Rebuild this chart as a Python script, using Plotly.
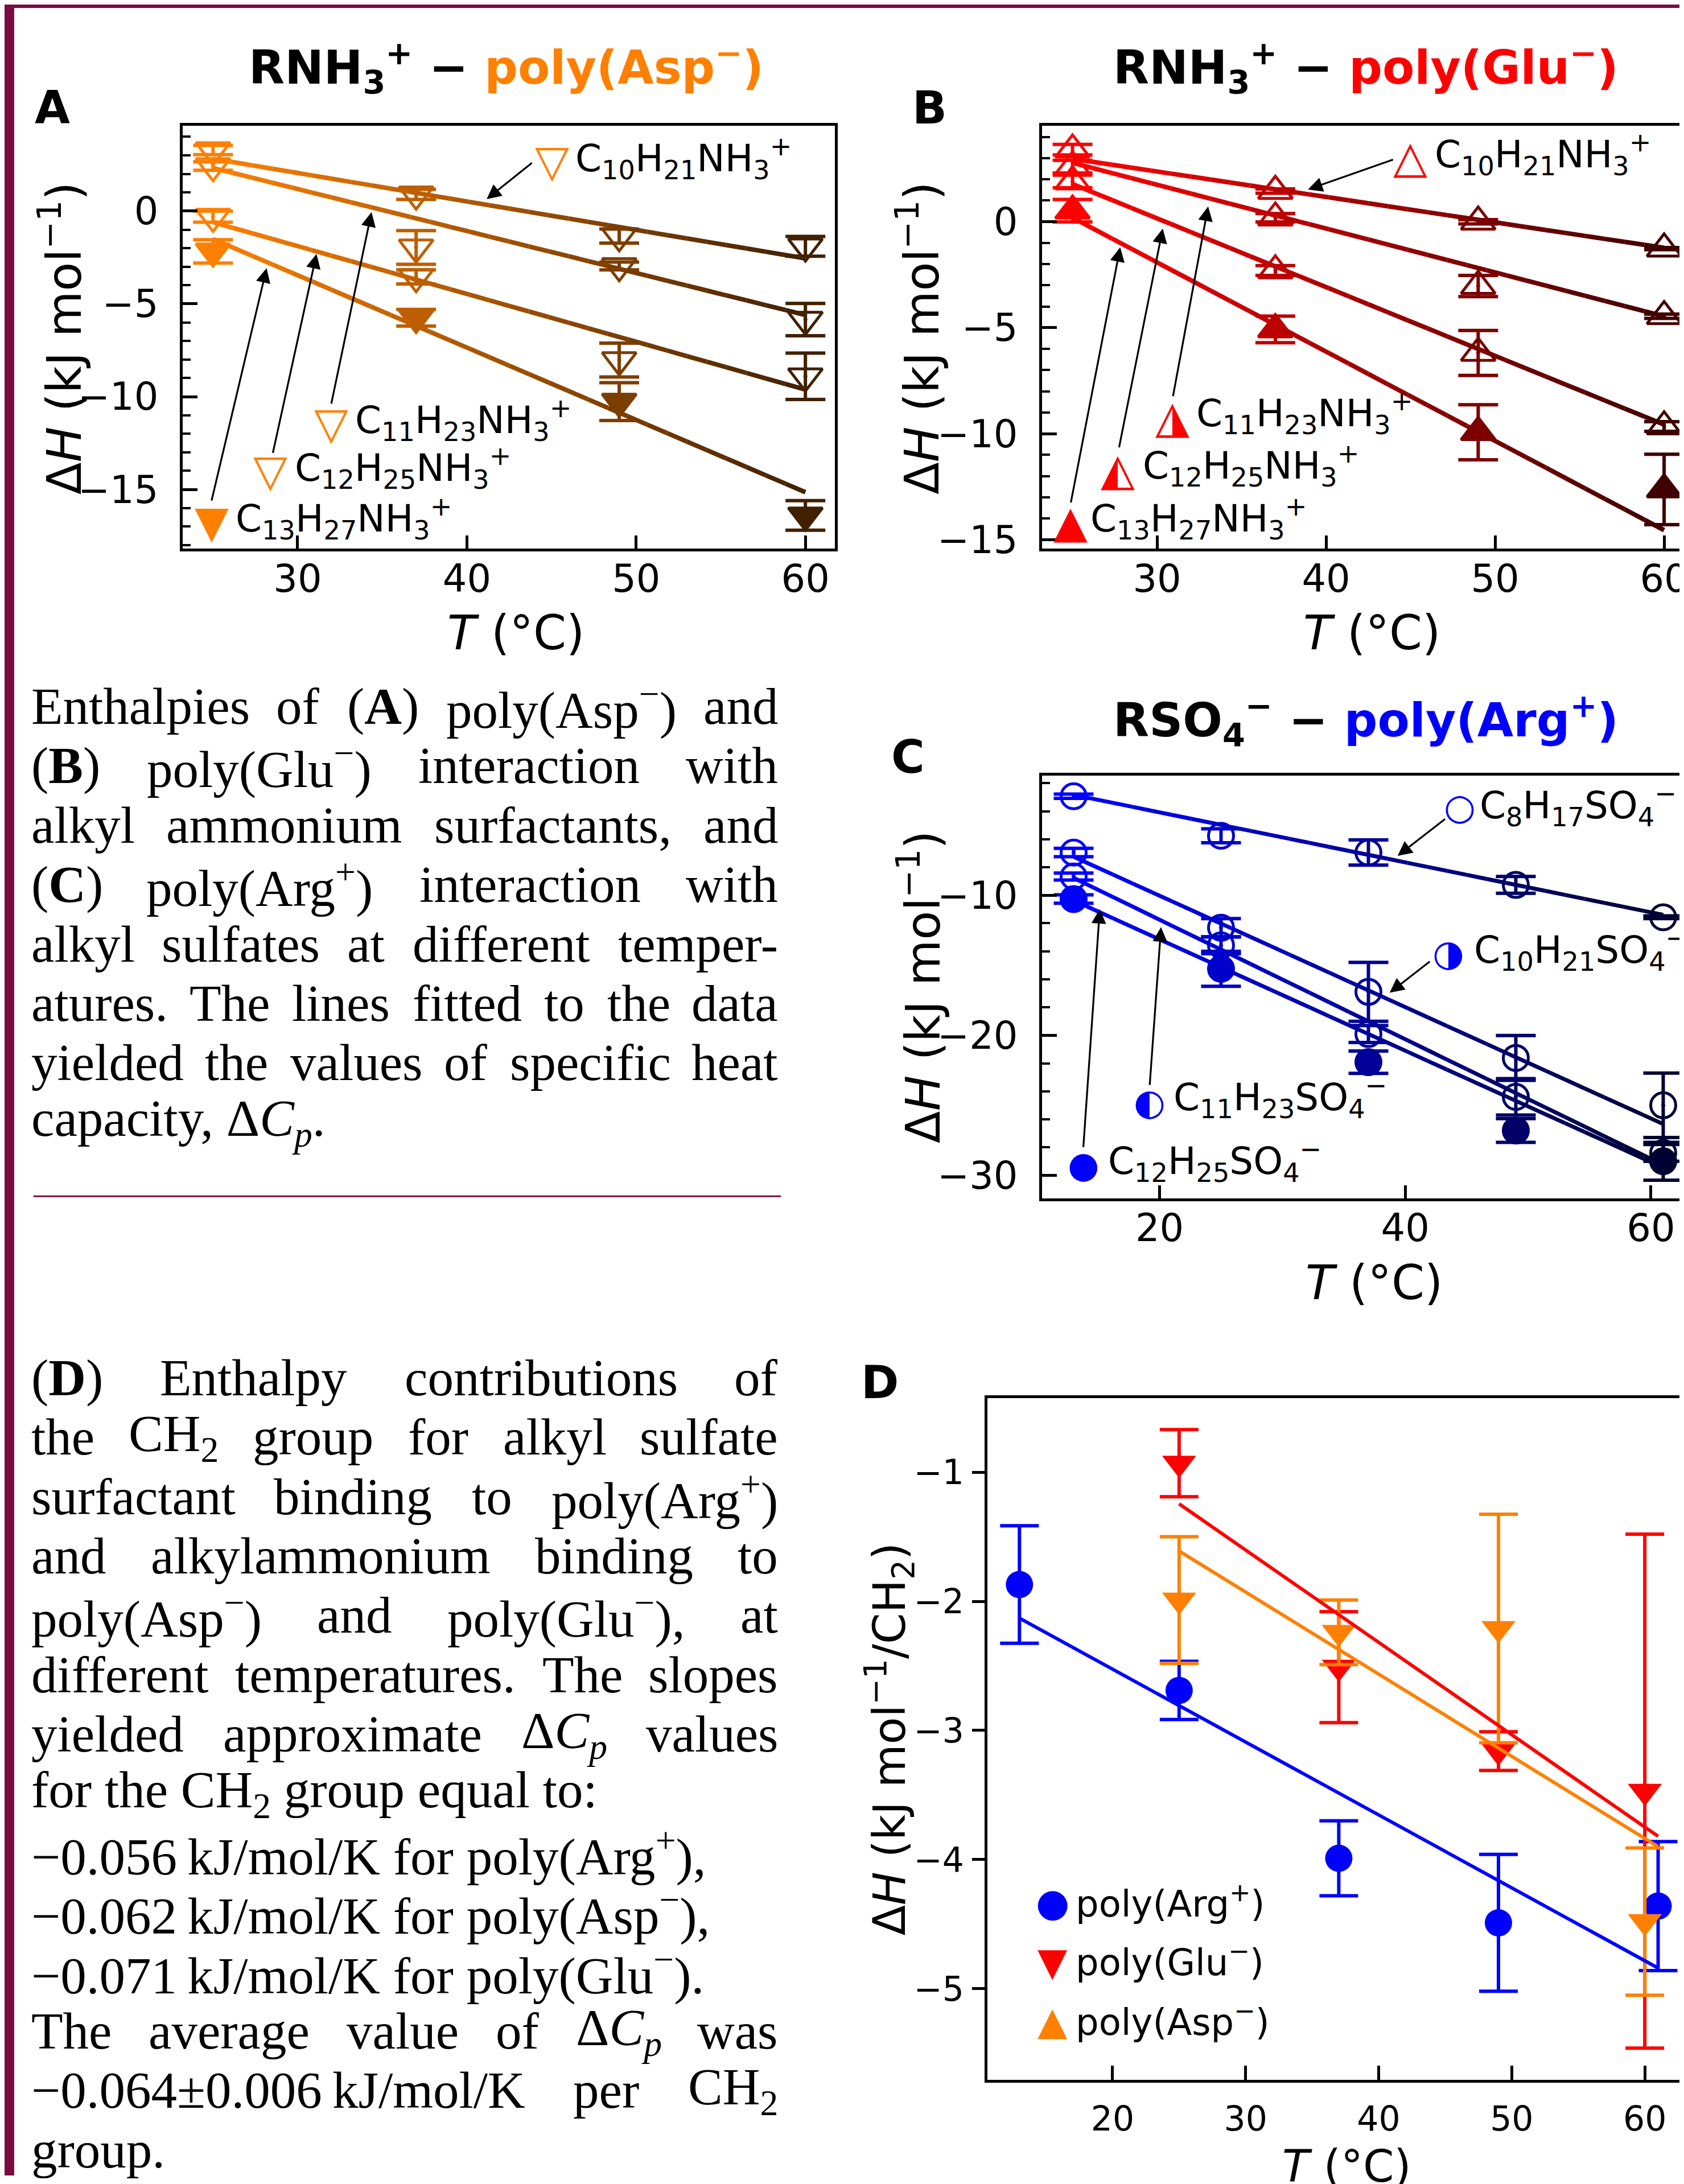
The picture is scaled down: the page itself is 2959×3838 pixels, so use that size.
import re
import plotly.graph_objects as go

FW, FH = 2959, 3838
MAROON = '#7a0c41'

# ================= DATA =================
# Panel A : RNH3+ - poly(Asp-)
T_A = [25, 37, 49, 60]
A_C10 = [3.29, 0.9, -1.35, -1.9]
A_C11 = [2.43, -1.96, -2.96, -5.85]
A_C12 = [-0.3, -3.55, -8.03, -8.9]
A_C13 = [-2.17, -5.75, -10.27, -16.4]
A_C10_err = [0.25, 0.27, 0.38, 0.53]
A_C11_err = [0.23, 0.91, 0.21, 0.87]
A_C12_err = [0.3, 0.38, 0.91, 1.25]
A_C13_err = [0.63, 0.45, 1.02, 0.8]
A_fit_T = [25, 60]
A_C10_fit = [2.82, -2.55]
A_C11_fit = [2.32, -5.6]
A_C12_fit = [-0.6, -9.62]
A_C13_fit = [-1.51, -15.15]

# Panel B : RNH3+ - poly(Glu-)
T_B = [25, 37, 49, 60]
B_C10 = [3.4, 1.45, 0.0, -1.27]
B_C11 = [2.6, 0.19, -3.03, -4.46]
B_C12 = [1.9, -2.3, -6.19, -9.66]
B_C13 = [0.52, -5.08, -9.93, -12.63]
B_C10_err = [0.25, 0.1, 0.1, 0.05]
B_C11_err = [0.3, 0.2, 0.5, 0.1]
B_C12_err = [0.3, 0.23, 1.06, 0.23]
B_C13_err = [0.53, 0.63, 1.3, 1.66]
B_fit_T = [25, 60]
B_C10_fit = [2.97, -1.23]
B_C11_fit = [2.78, -4.46]
B_C12_fit = [1.78, -9.57]
B_C13_fit = [0.19, -14.55]

# Panel C : RSO4- - poly(Arg+)
T_C = [13, 25, 37, 49, 61]
C_C8 = [-2.93, -5.75, -6.95, -9.26, -11.57]
C_C10 = [-6.95, -12.32, -16.9, -21.62, -25.0]
C_C11 = [-8.66, -13.58, -19.91, -24.4, -28.4]
C_C12 = [-10.27, -15.25, -21.92, -26.8, -29.0]
C_C8_err = [0.15, 0.5, 0.9, 0.6, 0.1]
C_C10_err = [0.3, 0.65, 2.1, 1.6, 2.3]
C_C11_err = [0.25, 0.6, 0.6, 1.3, 0.6]
C_C12_err = [0.3, 1.25, 0.8, 0.85, 1.35]
C_fit_T = [13, 61]
C_C8_fit = [-2.83, -11.4]
C_C10_fit = [-7.25, -26.34]
C_C11_fit = [-8.76, -29.25]
C_C12_fit = [-10.37, -29.45]

# Panel D : enthalpy per CH2
T_D_arg = [13, 25, 37, 49, 61]
D_arg = [-1.87, -2.69, -3.99, -4.49, -4.36]
D_arg_err = [0.455, 0.225, 0.29, 0.53, 0.5]
T_D_ag = [25, 37, 49, 60]
D_glu = [-0.93, -2.51, -3.16, -3.47]
D_glu_err = [0.26, 0.43, 0.15, 1.99]
D_asp = [-1.99, -2.24, -2.21, -4.48]
D_asp_err = [0.49, 0.25, 0.885, 0.57]
D_arg_fit_T = [13, 61]
D_arg_fit = [-2.13, -4.84]
D_ag_fit_T = [25, 61]
D_glu_fit = [-1.245, -3.82]
D_asp_fit = [-1.61, -3.90]

# text
P1_LINES = [
    (['Enthalpies', 'of', '(<b>A</b>)', 'poly(Asp<sup>−</sup>)', 'and'], True),
    (['(<b>B</b>)', 'poly(Glu<sup>−</sup>)', 'interaction', 'with'], True),
    (['alkyl', 'ammonium', 'surfactants,', 'and'], True),
    (['(<b>C</b>)', 'poly(Arg<sup>+</sup>)', 'interaction', 'with'], True),
    (['alkyl', 'sulfates', 'at', 'different', 'temper-'], True),
    (['atures.', 'The', 'lines', 'fitted', 'to', 'the', 'data'], True),
    (['yielded', 'the', 'values', 'of', 'specific', 'heat'], True),
    (['capacity,', 'Δ<i>C<sub>p</sub></i>.'], False),
]
P2_LINES = [
    (['(<b>D</b>)', 'Enthalpy', 'contributions', 'of'], True),
    (['the', 'CH<sub>2</sub>', 'group', 'for', 'alkyl', 'sulfate'], True),
    (['surfactant', 'binding', 'to', 'poly(Arg<sup>+</sup>)'], True),
    (['and', 'alkylammonium', 'binding', 'to'], True),
    (['poly(Asp<sup>−</sup>)', 'and', 'poly(Glu<sup>−</sup>),', 'at'], True),
    (['different', 'temperatures.', 'The', 'slopes'], True),
    (['yielded', 'approximate', 'Δ<i>C<sub>p</sub></i>', 'values'], True),
    (['for', 'the', 'CH<sub>2</sub>', 'group', 'equal', 'to:'], False),
    (['−0.056\u2009kJ/mol/K', 'for', 'poly(Arg<sup>+</sup>),'], False),
    (['−0.062\u2009kJ/mol/K', 'for', 'poly(Asp<sup>−</sup>),'], False),
    (['−0.071\u2009kJ/mol/K', 'for', 'poly(Glu<sup>−</sup>).'], False),
    (['The', 'average', 'value', 'of', 'Δ<i>C<sub>p</sub></i>', 'was'], True),
    (['−0.064±0.006\u2009kJ/mol/K', 'per', 'CH<sub>2</sub>'], True),
    (['group.'], False),
]

# ================= HELPERS =================
ORANGE = (255, 128, 0)
RED = (255, 0, 0)
BLUE = (0, 0, 255)


def shade(base, T, T0, T1, k):
    f = 1 - k * (T - T0) / (T1 - T0)
    return 'rgb(%d,%d,%d)' % tuple(round(c * f) for c in base)


def rgb(c):
    return 'rgb(%d,%d,%d)' % c


fig = go.Figure()
annotations = []
shapes = []


def px(x, y):
    return x / FW, 1 - y / FH


def ann(text, x, y, size, family='DejaVu Sans', color='black', xanchor='center',
        yanchor='middle', angle=0):
    xx, yy = px(x, y)
    annotations.append(dict(text=text, x=xx, y=yy, xref='paper', yref='paper',
                            showarrow=False, xanchor=xanchor, yanchor=yanchor,
                            textangle=angle, borderpad=0,
                            font=dict(family=family, size=size, color=color)))


def arrow(head, tail):
    hx, hy = px(*head)
    annotations.append(dict(text='', x=hx, y=hy, xref='paper', yref='paper',
                            showarrow=True, ax=tail[0] - head[0], ay=tail[1] - head[1],
                            arrowhead=2, arrowsize=1.6, arrowwidth=3.2,
                            arrowcolor='black', standoff=0, startstandoff=0))


def points(T, vals, errs, base, T0, T1, k, symbol, size, xa, ya, lw=5, cap=35, eth=6):
    for t, v, e in zip(T, vals, errs):
        col = shade(base, t, T0, T1, k)
        fig.add_trace(go.Scatter(
            x=[t], y=[v], mode='markers', xaxis=xa, yaxis=ya,
            marker=dict(symbol=symbol, size=size, color=col,
                        line=dict(color=col, width=lw)),
            error_y=dict(type='data', array=[e], color=col, thickness=eth, width=cap),
            showlegend=False, hoverinfo='skip'))


def grad_line(Tfit, vfit, base, T0, T1, k, width, xa, ya, n=30):
    ta0, ta1 = Tfit
    va0, va1 = vfit
    for i in range(n):
        a = i / n
        b = (i + 1) / n
        t_a, t_b = ta0 + (ta1 - ta0) * a, ta0 + (ta1 - ta0) * b
        v_a, v_b = va0 + (va1 - va0) * a, va0 + (va1 - va0) * b
        col = shade(base, (t_a + t_b) / 2, T0, T1, k)
        fig.add_trace(go.Scatter(x=[t_a, t_b], y=[v_a, v_b], mode='lines',
                                 xaxis=xa, yaxis=ya,
                                 line=dict(color=col, width=width),
                                 showlegend=False, hoverinfo='skip'))


# ================= PANEL A =================
kA = 0.75
A_series = [
    (A_C10, A_C10_err, A_C10_fit, 'triangle-down-open'),
    (A_C11, A_C11_err, A_C11_fit, 'triangle-down-open-dot'),
    (A_C12, A_C12_err, A_C12_fit, 'triangle-down-open-dot'),
    (A_C13, A_C13_err, A_C13_fit, 'triangle-down'),
]
for v, e, f, sym in A_series:
    points(T_A, v, e, ORANGE, 25, 60, kA, sym, 52, 'x', 'y')
for v, e, f, sym in A_series:
    grad_line(A_fit_T, f, ORANGE, 25, 60, kA, 8, 'x', 'y')

# ================= PANEL B =================
B_series = [
    (B_C10, B_C10_err, B_C10_fit, 'triangle-up-open'),
    (B_C11, B_C11_err, B_C11_fit, 'triangle-up-open-dot'),
    (B_C12, B_C12_err, B_C12_fit, 'triangle-up-open-dot'),
    (B_C13, B_C13_err, B_C13_fit, 'triangle-up'),
]
for v, e, f, sym in B_series:
    points(T_B, v, e, RED, 25, 60, kA, sym, 52, 'x2', 'y2')
for v, e, f, sym in B_series:
    grad_line(B_fit_T, f, RED, 25, 60, kA, 8, 'x2', 'y2')

# ================= PANEL C =================
kC = 0.8
C_series = [
    (C_C8, C_C8_err, C_C8_fit, 'circle-open'),
    (C_C10, C_C10_err, C_C10_fit, 'circle-open-dot'),
    (C_C11, C_C11_err, C_C11_fit, 'circle-open-dot'),
    (C_C12, C_C12_err, C_C12_fit, 'circle'),
]
for v, e, f, sym in C_series:
    points(T_C, v, e, BLUE, 13, 61, kC, sym, 44, 'x3', 'y3')
for v, e, f, sym in C_series:
    grad_line(C_fit_T, f, BLUE, 13, 61, kC, 7, 'x3', 'y3')

# ================= PANEL D =================
for T, v, e, col, sym, size in [
        (T_D_arg, D_arg, D_arg_err, BLUE, 'circle', 48),
        (T_D_ag, D_glu, D_glu_err, RED, 'triangle-down', 52),
        (T_D_ag, D_asp, D_asp_err, ORANGE, 'triangle-down', 52)]:
    fig.add_trace(go.Scatter(
        x=T, y=v, mode='markers', xaxis='x4', yaxis='y4',
        marker=dict(symbol=sym, size=size, color=rgb(col), line=dict(width=0)),
        error_y=dict(type='data', array=e, color=rgb(col), thickness=6, width=34),
        showlegend=False, hoverinfo='skip'))
for Tf, vf, col in [(D_arg_fit_T, D_arg_fit, BLUE), (D_ag_fit_T, D_glu_fit, RED),
                    (D_ag_fit_T, D_asp_fit, ORANGE)]:
    fig.add_trace(go.Scatter(x=Tf, y=vf, mode='lines', xaxis='x4', yaxis='y4',
                             line=dict(color=rgb(col), width=6),
                             showlegend=False, hoverinfo='skip'))

# ================= AXES =================
TICKFONT = dict(family='DejaVu Sans', size=67, color='black')


def axstyle(**kw):
    d = dict(showline=True, linecolor='black', linewidth=5, ticks='inside',
             tickcolor='black', tickwidth=5, showgrid=False, zeroline=False,
             tickfont=TICKFONT, tick0=0, ticklabeloverflow='allow')
    d.update(kw)
    return d


MINOR = lambda dt: dict(ticks='inside', dtick=dt, ticklen=14, tickwidth=4, tickcolor='black')

XSO = -10
yAB = [1 - 962.2 / FH, 1 - 214.2 / FH]
layout_axes = dict(
    xaxis=axstyle(domain=[313.8 / FW, 1463.6 / FW], range=[23.2, 61.73], anchor='y',
                  dtick=10, ticklen=23, mirror=True, ticklabelstandoff=XSO),
    yaxis=axstyle(domain=yAB, range=[-18.2, 4.6], anchor='x', dtick=5, ticklen=26,
                  mirror=True, minor=MINOR(1), ticklabelstandoff=24),
    xaxis2=axstyle(domain=[1829 / FW, 1.0], range=[23.19, 61.11], anchor='y2',
                   dtick=10, ticklen=23, mirror=True, ticklabelstandoff=XSO),
    yaxis2=axstyle(domain=yAB, range=[-15.43, 4.53], anchor='x2', dtick=5, ticklen=26,
                   minor=MINOR(1), ticklabelstandoff=24),
    xaxis3=axstyle(domain=[1829 / FW, 1.0], range=[10.42, 62.6], anchor='y3',
                   dtick=20, ticklen=23, mirror=True, ticklabelstandoff=XSO),
    yaxis3=axstyle(domain=[1 - 2110.4 / FH, 1 - 1362.8 / FH], range=[-31.64, -1.44],
                   anchor='x3', dtick=10, ticklen=26, minor=MINOR(2),
                   ticklabelstandoff=24),
    xaxis4=axstyle(domain=[1732.8 / FW, 1.0], range=[10.59, 62.86], anchor='y4',
                   dtick=10, ticklen=25, mirror=True, ticklabelstandoff=12,
                   tickfont=dict(family='DejaVu Sans', size=60, color='black')),
    yaxis4=axstyle(domain=[1 - 3669 / FH, 1 - 2463.9 / FH], range=[-5.706, -0.427],
                   anchor='x4', dtick=1, ticks='outside', ticklen=22,
                   ticklabelstandoff=2,
                   tickfont=dict(family='DejaVu Sans', size=60, color='black')),
)

# ================= CHART TEXTS =================
ann('<b>A</b>', 84, 183, 80)
ann('<b>B</b>', 1631, 183, 80)
ann('<b>C</b>', 1593, 1330, 80)
ann('<b>D</b>', 1543, 2436, 80)

ann('<b>RNH<sub>3</sub><sup>+</sup> − <span style="color:rgb(255,128,0)">poly(Asp<sup>−</sup>)</span></b>',
    884, 112, 82)
ann('<b>RNH<sub>3</sub><sup>+</sup> − <span style="color:rgb(255,0,0)">poly(Glu<sup>−</sup>)</span></b>',
    2400, 112, 82)
ann('<b>RSO<sub>4</sub><sup>−</sup> − <span style="color:rgb(0,0,255)">poly(Arg<sup>+</sup>)</span></b>',
    2400, 1266, 82)

YT = 'Δ<i>H</i> (kJ mol<sup>−1</sup>)'
ann(YT, 100, 590, 83, angle=-90)
ann(YT, 1612, 590, 83, angle=-90)
ann(YT, 1614, 1737, 83, angle=-90)
ann('Δ<i>H</i> (kJ mol<sup>−1</sup>/CH<sub>2</sub>)', 1560, 3066, 78, angle=-90)
XT = '<i>T</i> (°C)'
ann(XT, 902, 1111, 83)
ann(XT, 2411, 1111, 83)
ann(XT, 2415, 2260, 83)
ann(XT, 2366, 3822, 78)

# series labels (glyph, colour, glyph size, glyph pos, text, text x, text y)
LBL = 66
NH = 'H<sub>%s</sub>NH<sub>3</sub><sup>+</sup>'
SO = 'H<sub>%s</sub>SO<sub>4</sub><sup>−</sup>'
labels = [
    ('▽', ORANGE, 78, (965, 277), 'C<sub>10</sub>' + NH % '21', 1005, 272),
    ('▽', ORANGE, 78, (576, 740), 'C<sub>11</sub>' + NH % '23', 617, 734),
    ('▽', ORANGE, 78, (469, 824), 'C<sub>12</sub>' + NH % '25', 511, 819),
    ('▼', ORANGE, 78, (365, 914), 'C<sub>13</sub>' + NH % '27', 406, 908),
    ('△', RED, 78, (2478, 270), 'C<sub>10</sub>' + NH % '21', 2521, 265),
    ('◮', RED, 78, (2059, 729), 'C<sub>11</sub>' + NH % '23', 2100, 722),
    ('◭', RED, 78, (1963, 822), 'C<sub>12</sub>' + NH % '25', 2006, 815),
    ('▲', RED, 78, (1879, 914), 'C<sub>13</sub>' + NH % '27', 1913, 908),
    ('○', BLUE, 64, (2566, 1419), 'C<sub>8</sub>' + SO % '17', 2600, 1415),
    ('◑', BLUE, 64, (2546, 1677), 'C<sub>10</sub>' + SO % '21', 2590, 1671),
    ('◐', BLUE, 64, (2019, 1941), 'C<sub>11</sub>' + SO % '23', 2060, 1932),
    ('●', BLUE, 64, (1902, 2051), 'C<sub>12</sub>' + SO % '25', 1945, 2044),
]
for g, col, gs, gp, txt, tx, ty in labels:
    ann(g, gp[0], gp[1], gs, color=rgb(col))
    ann(txt, tx, ty, LBL, xanchor='left')

arrows = [
    ((850, 344), (931, 279)), ((647, 367), (576, 705)),
    ((550, 441), (473, 792)), ((462, 466), (365, 876)),
    ((2298, 327), (2449, 274)), ((2122, 357), (2060, 692)),
    ((2042, 396), (1965, 782)), ((1967, 429), (1880, 879)),
    ((2456, 1505), (2541, 1439)), ((2442, 1747), (2514, 1691)),
    ((2039, 1631), (2019, 1910)), ((1931, 1599), (1902, 2019)),
]
for h, t in arrows:
    arrow(h, t)

# D legend
for g, col, y, txt in [('●', BLUE, 3356, 'poly(Arg<sup>+</sup>)'),
                       ('▼', RED, 3460, 'poly(Glu<sup>−</sup>)'),
                       ('▲', ORANGE, 3565, 'poly(Asp<sup>−</sup>)')]:
    ann(g, 1848, y, 68, color=rgb(col))
    ann(txt, 1887, y - 3, 64, xanchor='left')

# ================= PARAGRAPHS =================
TW = {' ': .25, '\u2009': .2, 'a': .444, 'b': .5, 'c': .444, 'd': .5, 'e': .444, 'f': .333,
      'g': .5, 'h': .5, 'i': .278, 'j': .278, 'k': .5, 'l': .278, 'm': .778, 'n': .5,
      'o': .5, 'p': .5, 'q': .5, 'r': .333, 's': .389, 't': .278, 'u': .5, 'v': .5,
      'w': .722, 'x': .5, 'y': .5, 'z': .444, 'A': .722, 'B': .667, 'C': .667,
      'D': .722, 'E': .611, 'G': .722, 'H': .722, 'J': .389, 'K': .722, 'T': .611,
      '(': .333, ')': .333, ',': .25, '.': .25, ':': .278, '-': .333, '/': .278,
      '±': .549, '−': .564, '+': .564, 'Δ': .612}
for d in '0123456789':
    TW[d] = .5


def text_width(html, fs):
    w, scale = 0.0, 1.0
    for tok in re.split(r'(<[^>]+>)', html):
        if tok.startswith('<'):
            tag = tok.strip('<>/').split()[0]
            if tag in ('sup', 'sub'):
                scale = 1.0 if tok.startswith('</') else 0.7
            continue
        for ch in tok:
            w += TW.get(ch, .5) * scale
    return w * fs


PFONT = 'Liberation Serif'
PFS = 91
XL, XR = 46, 1365


def para(lines, y0, pitch):
    for i, (words, just) in enumerate(lines):
        y = y0 + pitch * i
        if not just:
            ann(' '.join(words), XL, y, PFS, family=PFONT, xanchor='left')
            continue
        ws = [text_width(w, PFS) for w in words]
        gap = (XR - XL - sum(ws)) / (len(words) - 1)
        x = XL
        for j, (w, wd) in enumerate(zip(words, ws)):
            if j == 0:
                ann(w, XL, y, PFS, family=PFONT, xanchor='left')
            elif j == len(words) - 1:
                ann(w, XR, y, PFS, family=PFONT, xanchor='right')
            else:
                ann(w, x + wd / 2, y, PFS, family=PFONT, xanchor='center')
            x += wd + gap


para(P1_LINES, 1271 - 30, 105)
para(P2_LINES, 2458 - 30, 105.0)

# ================= DECORATION =================
shapes.append(dict(type='rect', xref='paper', yref='paper', x0=0, x1=17 / FW, y0=0, y1=1,
                   fillcolor=MAROON, line=dict(width=0), layer='above'))
shapes.append(dict(type='rect', xref='paper', yref='paper', x0=0, x1=1, y0=1 - 6 / FH,
                   y1=1, fillcolor=MAROON, line=dict(width=0), layer='above'))
shapes.append(dict(type='line', xref='paper', yref='paper', x0=51 / FW, x1=1369 / FW,
                   y0=1 - 2107 / FH, y1=1 - 2107 / FH, line=dict(color=MAROON, width=3)))

fig.update_layout(
    width=FW, height=FH, autosize=False,
    margin=dict(l=0, r=0, t=0, b=0),
    paper_bgcolor='white', plot_bgcolor='white',
    font=dict(family='DejaVu Sans', color='black'),
    showlegend=False,
    annotations=annotations, shapes=shapes,
    **layout_axes)

fig.write_html('out.html')
